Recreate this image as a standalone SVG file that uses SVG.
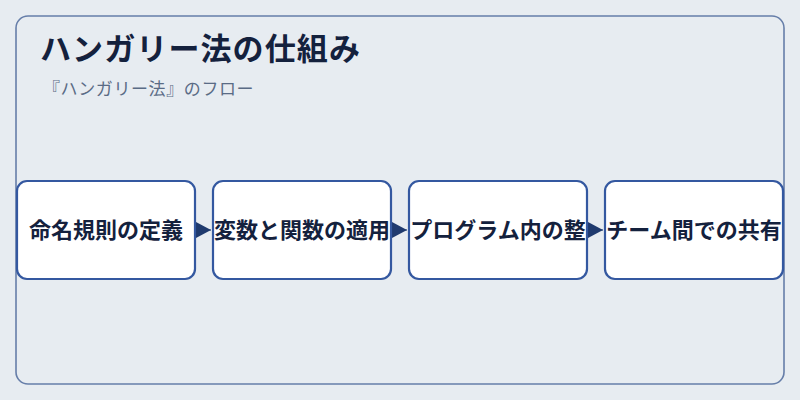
<svg xmlns="http://www.w3.org/2000/svg" width="800" height="400" viewBox="0 0 800 400">
<defs>
<style>
.bg{fill:#e7ecf1}
.frame{fill:none;stroke:#667ea9;stroke-width:1.6}
.node rect{fill:#ffffff;stroke:#3458a0;stroke-width:2.2}
.node text{font-family:"Noto Sans CJK JP","Noto Sans",sans-serif;font-size:22px;font-weight:700;fill:#14213d;text-anchor:middle}
.title{font-family:"Noto Sans CJK JP","Noto Sans",sans-serif;font-size:31px;font-weight:700;fill:#14213d;letter-spacing:1.1px}
.sub{font-family:"Noto Sans CJK JP","Noto Sans",sans-serif;font-size:17px;fill:#5a6b85;letter-spacing:0.6px}
.conn line{stroke:#1f3a6e;stroke-width:1;marker-end:url(#ah)}
</style>
<marker id="ah" viewBox="0 0 10 10" refX="10" refY="5" markerWidth="15" markerHeight="16" markerUnits="userSpaceOnUse" orient="auto" preserveAspectRatio="none">
<path d="M0,0 L10,5 L0,10 Z" fill="#1f3a6e"/>
</marker>
</defs>
<rect class="bg" x="0" y="0" width="800" height="400"/>
<rect class="frame" x="16" y="16" width="768" height="368" rx="12"/>
<text class="title" x="40" y="60">ハンガリー法の仕組み</text>
<text class="sub" x="43" y="95">『ハンガリー法』のフロー</text>
<g class="conn">
<line x1="196" y1="230" x2="211" y2="230"/>
<line x1="392" y1="230" x2="407" y2="230"/>
<line x1="588" y1="230" x2="603" y2="230"/>
</g>
<g id="node1" class="node"><rect x="17" y="181" width="178" height="98" rx="10"/><text x="106" y="238">命名規則の定義</text></g>
<g id="node2" class="node"><rect x="213" y="181" width="178" height="98" rx="10"/><text x="302" y="238">変数と関数の適用</text></g>
<g id="node3" class="node"><rect x="409" y="181" width="178" height="98" rx="10"/><text x="498" y="238">プログラム内の整</text></g>
<g id="node4" class="node"><rect x="605" y="181" width="178" height="98" rx="10"/><text x="694" y="238">チーム間での共有</text></g>
</svg>
